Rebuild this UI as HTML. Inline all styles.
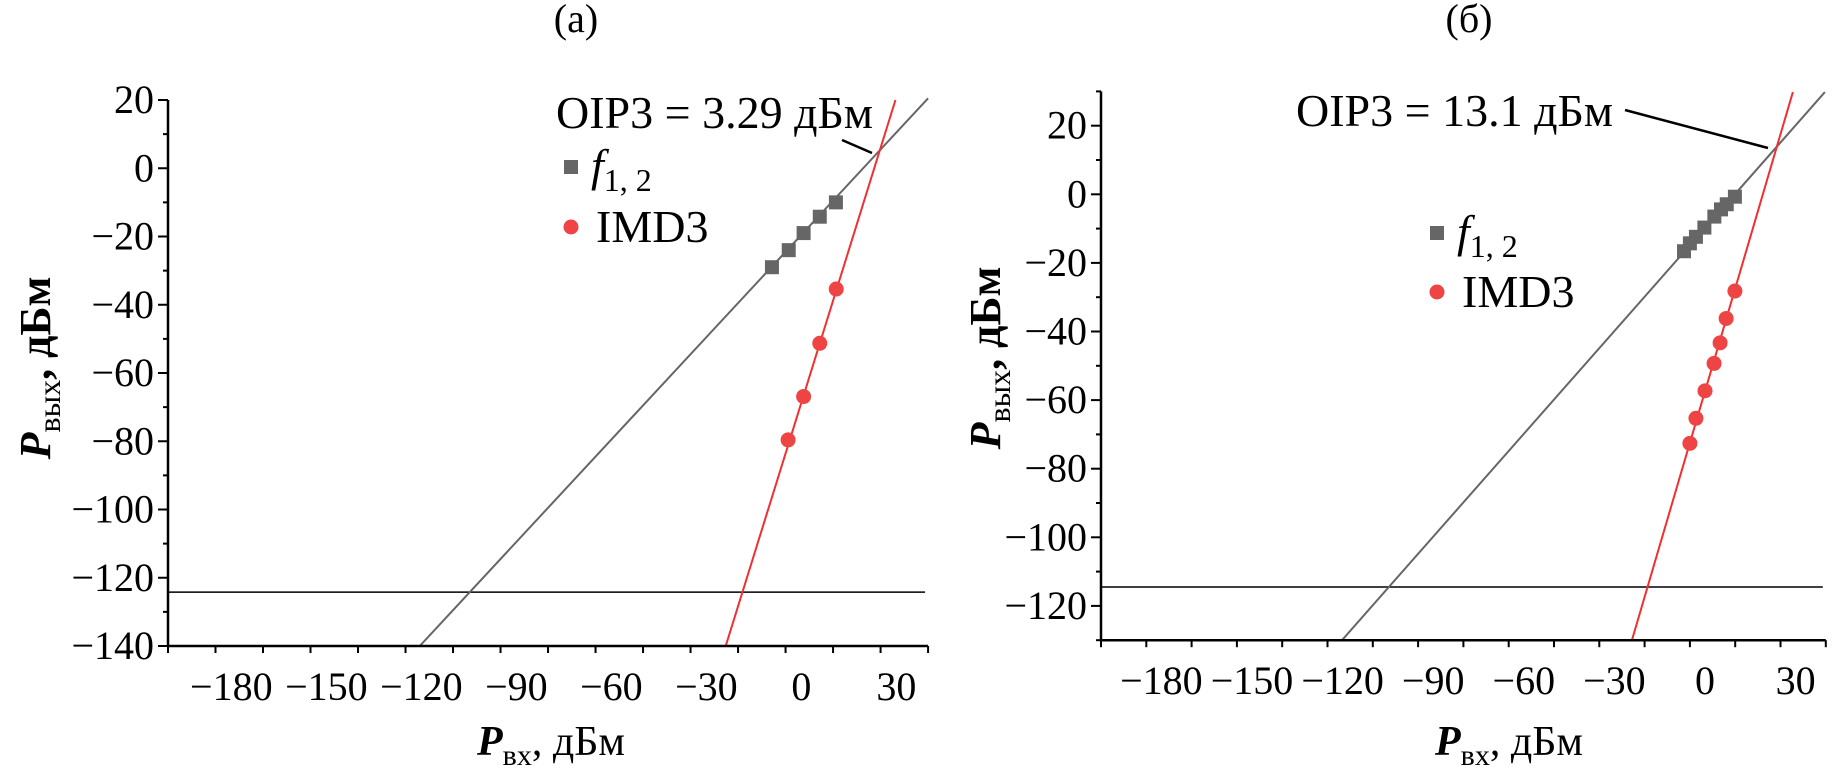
<!DOCTYPE html>
<html><head><meta charset="utf-8"><style>
html,body{margin:0;padding:0;background:#fff;}
svg{display:block;font-family:"Liberation Serif","DejaVu Serif",serif;}
</style></head><body>
<svg id="fig" width="1836" height="779" viewBox="0 0 1836 779" xmlns="http://www.w3.org/2000/svg" font-family="Liberation Serif, DejaVu Serif, serif"></svg>
<script>
// Panel (a) data
const aF12X = [-9.3, -4, 0.7, 5.8, 10.9];
const aF12Y = [-29, -24, -19, -14.2, -10];
const aImdX = [11, 5.8, 0.7, -4.2];
const aImdY = [-35.4, -51.3, -66.9, -79.6];
const aGrayLine = [[-120.5, -140], [40, 20.5]];
const aRedLine = [[-23.9, -140], [29.7, 20]];
const aFloor = -124.2;
const aYTicks = [-140, -120, -100, -80, -60, -40, -20, 0, 20];
// Panel (б) data
const bF12X = [-6.95, -5, -3, -0.2, 3.1, 5.3, 7.2, 9.9];
const bF12Y = [-16.6, -14.3, -12.4, -9.7, -6.5, -4.4, -2.9, -0.7];
const bImdX = [9.9, 7, 5, 3, 0, -3, -5];
const bImdY = [-28.2, -36.2, -43.3, -49.3, -57.3, -65.3, -72.6];
const bGrayLine = [[-120.2, -130], [39.7, 29.8]];
const bRedLine = [[-24.2, -130], [29.1, 29.8]];
const bFloor = -114.5;
const bYTicks = [-120, -100, -80, -60, -40, -20, 0, 20];
const xTicks = [-180, -150, -120, -90, -60, -30, 0, 30];

const NS = "http://www.w3.org/2000/svg";
const svg = document.getElementById("fig");
function el(tag, attrs, parent, text) {
  const e = document.createElementNS(NS, tag);
  for (const k in attrs) e.setAttribute(k, attrs[k]);
  if (text !== undefined) e.textContent = text;
  (parent || svg).appendChild(e);
  return e;
}
function fmt(v){ return v < 0 ? "\u2212" + Math.abs(v) : String(v); }

function panel(p) {
  const g = el("g", {});
  
  
  const X = v => p.x0 + (v - p.xmin) * p.sx;
  const Y = v => p.y0 + (p.ymax - v) * p.sy;
  const yBottom = Y(p.ymin), xRight = X(p.xmax);
  const fl = el("line", {x1: X(p.xmin), x2: xRight - 3, y1: Y(p.floor), y2: Y(p.floor), stroke: "#000", "stroke-width": 1.5}, g);
  
  
  const gl = el("line", {x1: X(p.gray[0][0]), y1: Y(p.gray[0][1]), x2: X(p.gray[1][0]), y2: Y(p.gray[1][1]), stroke: "#666", "stroke-width": 2}, g);
  
  
  const rl = el("line", {x1: X(p.red[0][0]), y1: Y(p.red[0][1]), x2: X(p.red[1][0]), y2: Y(p.red[1][1]), stroke: "#f03030", "stroke-width": 2}, g);
  
  
  p.fx.forEach((v, i) => {
    const r = el("rect", {x: X(v) - 7, y: Y(p.fy[i]) - 7, width: 14, height: 14, fill: "#666"}, g);
    
    
  });
  p.ix.forEach((v, i) => {
    const c = el("circle", {cx: X(v), cy: Y(p.iy[i]), r: 7.5, fill: "#ee4444"}, g);
    
    
  });
  const ya = el("line", {x1: p.x0, x2: p.x0, y1: Y(p.ymax), y2: yBottom + 1, stroke: "#000", "stroke-width": 2.5}, g);
  
  
  const xa = el("line", {x1: p.x0 - 1, x2: xRight, y1: yBottom, y2: yBottom, stroke: "#000", "stroke-width": 2.5}, g);
  
  
  for (let v = p.ymin; v <= p.ymax; v += 10) {
    const major = p.yticks.includes(v);
    el("line", {x1: p.x0 - (major ? 10 : 5), x2: p.x0, y1: Y(v), y2: Y(v), stroke: "#000", "stroke-width": 2}, g);
  }
  p.yticks.forEach(v => {
    const t = el("text", {x: p.x0 - 14, y: Y(v) + 13, "text-anchor": "end", "font-size": 40}, g, fmt(v));
    
    
  });
  for (let v = p.xmin; v <= p.xmax; v += 15) {
    const major = xTicks.includes(v);
    el("line", {x1: X(v), x2: X(v), y1: yBottom, y2: yBottom + (major ? 13 : 7), stroke: "#000", "stroke-width": 2}, g);
  }
  xTicks.forEach(v => {
    const t = el("text", {x: X(v), y: yBottom + 54, "text-anchor": "middle", "font-size": 40}, g, fmt(v));
    
    
  });
  const tt = el("text", {x: p.titleX, y: 32, "text-anchor": "middle", "font-size": 40}, g, p.title);
  
  
  const xt = el("text", {x: p.xlabX, y: 755, "font-size": 42}, g);
  
  
  el("tspan", {"font-weight": "bold", "font-style": "italic"}, xt, "P");
  el("tspan", {"font-size": 30, dy: 10}, xt, "вх");
  el("tspan", {dy: -10}, xt, ", дБм");
  const yt = el("text", {transform: `translate(${p.ylabX},${p.ylabY}) rotate(-90)`, "text-anchor": "middle", "font-size": 44, "font-weight": "bold"}, g);
  
  
  el("tspan", {"font-style": "italic"}, yt, "P");
  el("tspan", {"font-size": 32, dy: 10, "font-weight": "normal"}, yt, "вых");
  el("tspan", {dy: -10}, yt, ", дБм");
  const ot = el("text", {x: p.oipX, y: p.oipY, "font-size": 46}, g, p.oipText);
  
  
  const ll = el("line", {x1: p.lead[0], y1: p.lead[1], x2: p.lead[2], y2: p.lead[3], stroke: "#000", "stroke-width": 2.5}, g);
  
  
  const lg = el("g", {}, g);
  
  
  el("rect", {x: p.legX - 7, y: p.legY1 - 7, width: 14, height: 14, fill: "#666"}, lg);
  const l1 = el("text", {x: p.legX + 20, y: p.legY1 + 14, "font-size": 46}, lg);
  
  
  el("tspan", {"font-style": "italic"}, l1, "f");
  el("tspan", {"font-size": 32, dy: 10}, l1, "1, 2");
  el("circle", {cx: p.legX, cy: p.legY2, r: 7.5, fill: "#ee4444"}, lg);
  const l2 = el("text", {x: p.legX + 25, y: p.legY2 + 15, "font-size": 46}, lg, "IMD3");
  
  
}

panel({name: "panel-a", x0: 168, y0: 100, xmin: -200, xmax: 40, ymin: -140, ymax: 20, sx: 3.167, sy: 3.4125,
  fx: aF12X, fy: aF12Y, ix: aImdX, iy: aImdY, gray: aGrayLine, red: aRedLine, floor: aFloor, yticks: aYTicks,
  title: "(a)", titleX: 576, xlabX: 477, ylabX: 50, ylabY: 368,
  oipText: "OIP3 = 3.29 дБм", oipX: 556, oipY: 128, lead: [842, 140, 872, 153],
  legX: 571, legY1: 167, legY2: 227});
panel({name: "panel-b", x0: 1101, y0: 91.4, xmin: -200, xmax: 40, ymin: -130, ymax: 30, sx: 3.02, sy: 3.43,
  fx: bF12X, fy: bF12Y, ix: bImdX, iy: bImdY, gray: bGrayLine, red: bRedLine, floor: bFloor, yticks: bYTicks,
  title: "(б)", titleX: 1469, xlabX: 1435, ylabX: 1000, ylabY: 358,
  oipText: "OIP3 = 13.1 дБм", oipX: 1296, oipY: 126, lead: [1625, 110, 1768, 148],
  legX: 1437, legY1: 233, legY2: 292});
</script>
</body></html>
